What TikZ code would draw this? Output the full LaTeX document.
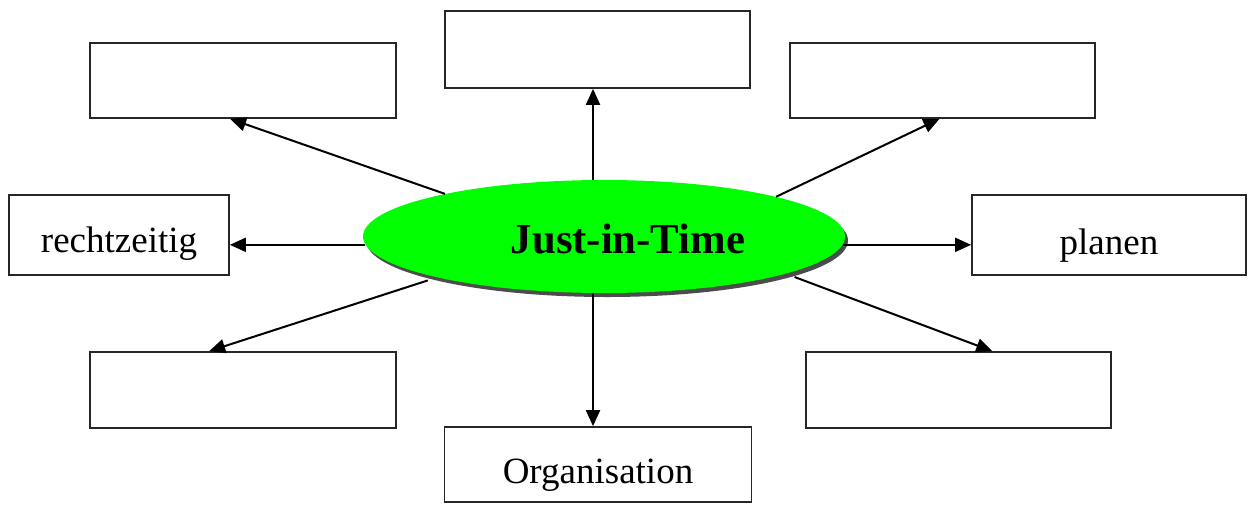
\documentclass[tikz,border=0pt]{standalone}
\usepackage{fontspec}
\setmainfont{Liberation Serif}
\usetikzlibrary{arrows.meta,calc,shapes.geometric,shadows}
\begin{document}
\begin{tikzpicture}[x=1pt,y=-1pt,
  box/.style={draw=black!85,line width=1.7pt,fill=white,rectangle,inner sep=0pt,
    font=\fontsize{37}{40}\selectfont,text height=35pt,text depth=0pt},
  hub/.style={ellipse,fill=green,inner sep=0pt,minimum width=482pt,minimum height=113pt,
    font=\fontsize{42.7}{46}\selectfont\bfseries,text height=34pt,text depth=0pt,
    drop shadow={shadow xshift=3pt,shadow yshift=-4pt,fill=black!70,opacity=1}},
  arr/.style={line width=2pt,-{Triangle[length=16pt,width=14pt]}}]
\useasboundingbox (0,0) rectangle (1253,504);

% outer boxes
\node[box,minimum width=306pt,minimum height=75pt] (tl) at (243,80.5) {};
\node[box,minimum width=305pt,minimum height=77pt] (top) at (597.5,49.5) {};
\node[box,minimum width=305pt,minimum height=75pt] (tr) at (942.5,80.5) {};
\node[box,minimum width=220pt,minimum height=80pt] (rz) at (119,235) {rechtzeitig};
\node[box,minimum width=274pt,minimum height=80pt] (pl) at (1109,235) {\raisebox{-2pt}{planen}};
\node[box,minimum width=306pt,minimum height=76pt] (bl) at (243,390) {};
\node[box,minimum width=305pt,minimum height=76pt] (br) at (958.5,390) {};
\node[box,minimum width=307pt,minimum height=75pt] (bot) at (598,464.5) {\raisebox{-1pt}{Organisation}};

% central ellipse
\node[hub] (jit) at (604,236.5) {\hspace*{48pt}Just-in-Time};

% connectors
\draw[arr] (jit.101) -- (jit.101 |- top.south);
\draw[arr] (jit.259) -- (jit.259 |- bot.north);
\draw[arr] (jit.182) -- (jit.182 -| rz.east);
\draw[arr] (jit.-2) -- (jit.-2 -| pl.west);
\draw[arr] (jit.165.4) -- ($(tl.south west)!0.458!(tl.south east)$);
\draw[arr] (jit.13.5) -- ($(tr.south west)!0.49!(tr.south east)$);
\draw[arr] ($(jit.center)!1.065!(jit.194.7)$) -- ($(bl.north west)!0.39!(bl.north east)$);
\draw[arr] ($(jit.center)!1.065!(jit.-12.7)$) -- ($(br.north west)!0.61!(br.north east)$);
\end{tikzpicture}
\end{document}
